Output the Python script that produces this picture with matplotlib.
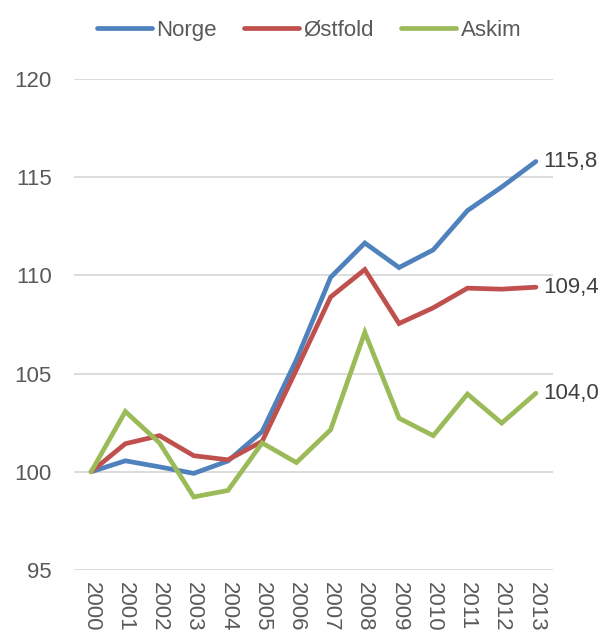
import matplotlib.pyplot as plt

years = [str(y) for y in range(2000, 2014)]
norge = [100.0, 100.56, 100.25, 99.92, 100.55, 102.05, 105.7, 109.9,
         111.65, 110.4, 111.3, 113.3, 114.5, 115.8]
ostfold = [100.0, 101.43, 101.84, 100.82, 100.61, 101.55, 105.2, 108.9,
           110.3, 107.55, 108.35, 109.35, 109.3, 109.4]
askim = [100.0, 103.07, 101.47, 98.72, 99.05, 101.47, 100.47, 102.14,
         107.1, 102.73, 101.84, 103.96, 102.48, 104.0]

series = [('Norge', norge, '#4F81BD'),
          ('Østfold', ostfold, '#C0504D'),
          ('Askim', askim, '#9BBB59')]

plt.rcParams['font.family'] = ['Liberation Sans', 'DejaVu Sans']
FS = 16

fig = plt.figure(figsize=(6.06, 6.35), dpi=100)
ax = fig.add_axes([74/606, 1-570/635, 479/606, 491/635])

x = list(range(len(years)))
for name, vals, col in series:
    ax.plot(x, vals, color=col, lw=3.4, label=name, solid_capstyle='round',
            solid_joinstyle='miter')
    ax.annotate(f'{vals[-1]:.1f}'.replace('.', ','), (x[-1], vals[-1]),
                xytext=(5, 0), textcoords='offset points',
                va='center', ha='left', fontsize=FS, color='#404040',
                annotation_clip=False)

ax.set_xlim(-0.5, len(years) - 0.5)
ax.set_ylim(95, 120)
ax.set_yticks([95, 100, 105, 110, 115, 120])
ax.set_xticks(x)
ax.set_xticklabels(years, rotation=270)
ax.grid(axis='y', color='#D9D9D9', lw=1.3)
ax.set_axisbelow(True)
for s in ax.spines.values():
    s.set_visible(False)
ax.tick_params(axis='both', length=0, labelsize=FS, labelcolor='#595959')
ax.tick_params(axis='y', pad=16)
ax.tick_params(axis='x', pad=9)

fig.legend(loc='upper center', bbox_to_anchor=(0.51, 1.0), ncol=3,
           frameon=False, fontsize=FS, handlelength=2.5, handletextpad=0.2,
           columnspacing=1.2, labelcolor='#595959')

fig.savefig('out.png', dpi=100)
